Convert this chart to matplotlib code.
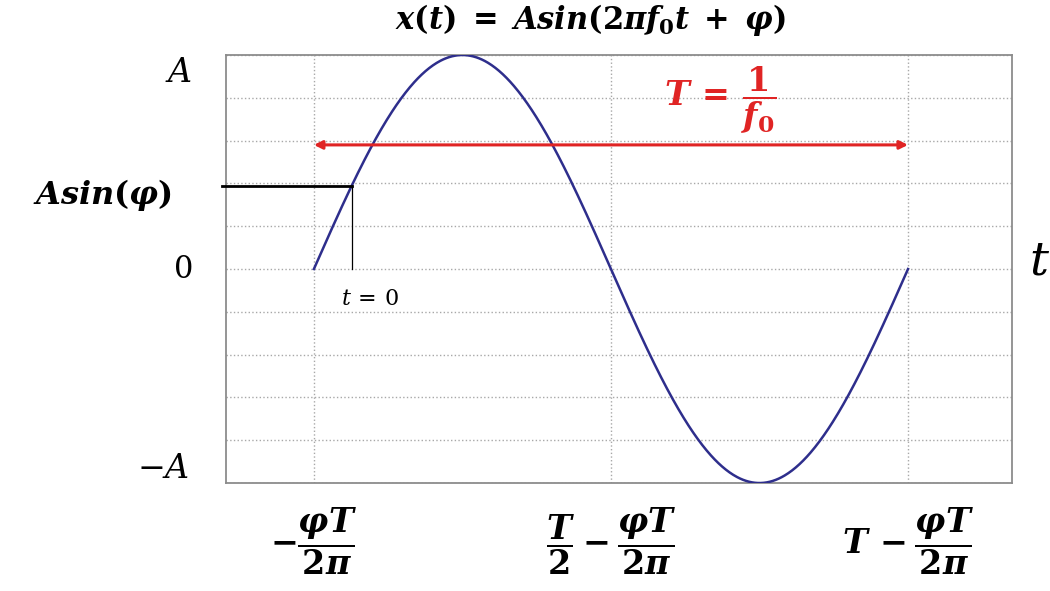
import numpy as np
import matplotlib.pyplot as plt

# bold math (title, fractions) uses the "custom" set, plain math uses dejavuserif
plt.rcParams['mathtext.fontset'] = 'custom'
plt.rcParams['mathtext.rm'] = 'DejaVu Serif:bold'
plt.rcParams['mathtext.it'] = 'DejaVu Serif:italic:bold'
plt.rcParams['mathtext.bf'] = 'DejaVu Serif:bold'

# signal parameters (period normalised to 1)
A = 1.0
T = 1.0
phi = 0.40  # phase in rad

t0 = -phi * T / (2 * np.pi)          # zero crossing before t = 0
t = np.linspace(t0, t0 + T, 800)
x = A * np.sin(2 * np.pi * t / T + phi)

y_grid = np.linspace(-A, A, 11)
x_ticks = [t0, T / 2 + t0, T + t0]
x_labels = [r'$-\dfrac{\varphi T}{2\pi}$',
            r'$\dfrac{T}{2}-\dfrac{\varphi T}{2\pi}$',
            r'$T\,-\dfrac{\varphi T}{2\pi}$']
arrow_y = 0.58 * A

fig = plt.figure(figsize=(10.5, 5.91), dpi=100)
ax = fig.add_axes([0.2152, 0.1827, 0.7486, 0.7242])

ax.plot(t, x, color='#2e2e8c', lw=1.8, zorder=3)
ax.set_xlim(t0 - 0.148 * T, t0 + T + 0.175 * T)
ax.set_ylim(-A, A)

# grid
ax.set_yticks(y_grid)
ax.set_yticklabels([])
ax.set_xticks(x_ticks)
ax.set_xticklabels(x_labels, fontsize=24, math_fontfamily='custom')
ax.tick_params(length=0, pad=14)
ax.tick_params(axis='x', pad=16)
ax.grid(True, ls=':', color='#a8a8a8', lw=1.0)
for s in ax.spines.values():
    s.set_color('#8c8c8c')
    s.set_linewidth(1.3)

# A sin(phi) marker at t = 0
ax.plot([t0 - 0.155 * T, 0], [A * np.sin(phi)] * 2, color='black', lw=2.0,
        clip_on=False, zorder=4)
ax.plot([0, 0], [0, A * np.sin(phi)], color='black', lw=0.9, zorder=4)
ax.text(0.03, -0.14, r'$t\,=\,0$', fontsize=16, ha='center', va='center',
        math_fontfamily='dejavuserif')

# period arrow
ax.annotate('', xy=(t0 + T, arrow_y), xytext=(t0, arrow_y),
            arrowprops=dict(arrowstyle='<|-|>', color='#e02424', lw=2.2,
                            mutation_scale=12, shrinkA=0, shrinkB=0), zorder=5)
ax.text(t0 + 0.683 * T, 0.79 * A, r'$T\,=\,\dfrac{1}{f_0}$', color='#e02424',
        fontsize=24, ha='center', va='center', math_fontfamily='custom')

# y labels
yt = ax.get_yaxis_transform()
ax.text(-0.043, 0.92 * A, r'$A$', transform=yt, fontsize=24, ha='right',
        va='center', math_fontfamily='dejavuserif')
ax.text(-0.043, 0.0, r'$0$', transform=yt, fontsize=22, ha='right',
        va='center', math_fontfamily='dejavuserif')
ax.text(-0.047, -0.93 * A, r'$-A$', transform=yt, fontsize=24, ha='right',
        va='center', math_fontfamily='dejavuserif')
ax.text(-0.069, A * np.sin(phi) - 0.045, r'$Asin(\varphi)$', transform=yt,
        fontsize=23, ha='right', va='center', math_fontfamily='custom')

fig.text(1040 / 1050, 1 - 262 / 591, r'$t$', fontsize=34, ha='center',
         va='center', math_fontfamily='dejavuserif')
fig.text(591 / 1050, 1 - 20 / 591, r'$x(t)\;=\;Asin(2\pi f_0 t\;+\;\varphi)$',
         fontsize=22, ha='center', va='center', math_fontfamily='custom')

fig.savefig('out.png', dpi=100)
